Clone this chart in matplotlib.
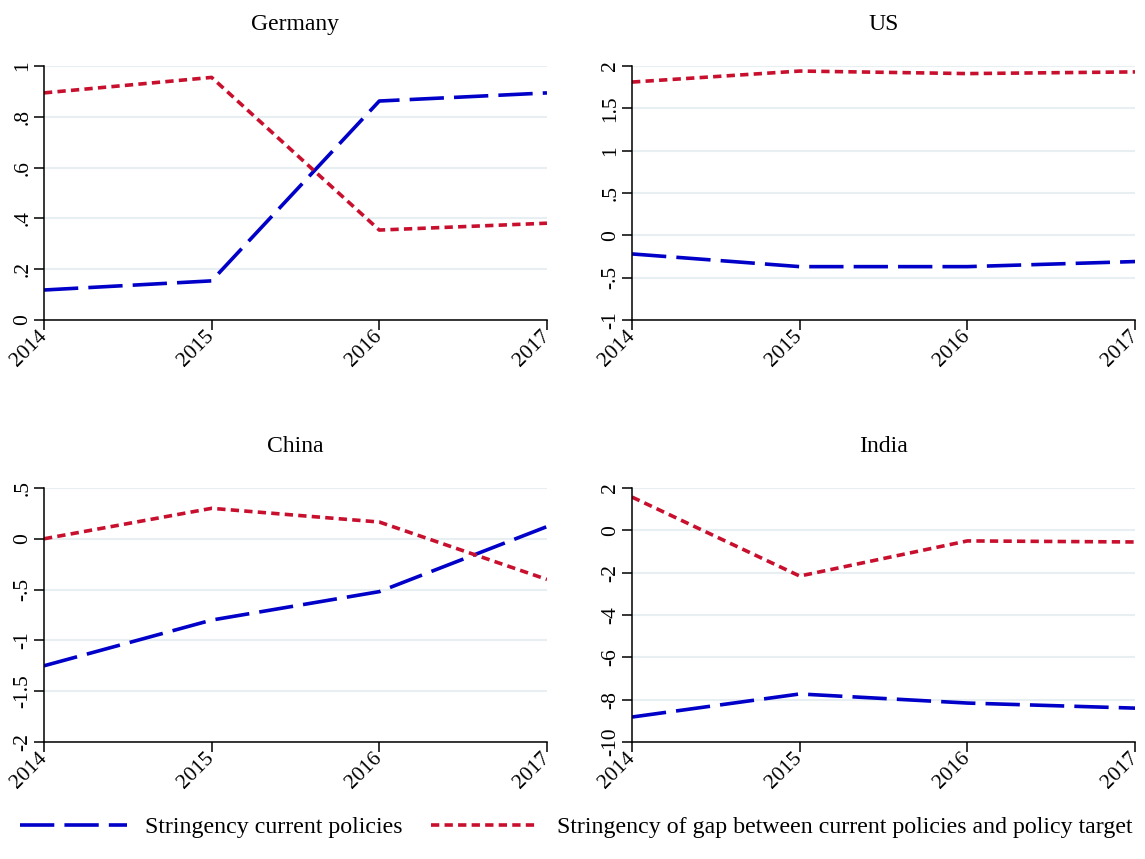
import matplotlib.pyplot as plt
from matplotlib.lines import Line2D

plt.rcParams['font.family'] = ['Liberation Serif', 'DejaVu Serif']

years = [2014, 2015, 2016, 2017]

germany_current = [0.118, 0.154, 0.862, 0.894]
germany_gap = [0.894, 0.955, 0.354, 0.381]
us_current = [-0.22, -0.37, -0.37, -0.31]
us_gap = [1.81, 1.94, 1.91, 1.93]
china_current = [-1.25, -0.80, -0.52, 0.12]
china_gap = [0.0, 0.30, 0.165, -0.40]
india_current = [-8.82, -7.73, -8.16, -8.40]
india_gap = [1.57, -2.16, -0.50, -0.55]

panels = [
    ("Germany", germany_current, germany_gap, [0, .2, .4, .6, .8, 1], ["0", ".2", ".4", ".6", ".8", "1"]),
    ("US", us_current, us_gap, [-1, -.5, 0, .5, 1, 1.5, 2], ["-1", "-.5", "0", ".5", "1", "1.5", "2"]),
    ("China", china_current, china_gap, [-2, -1.5, -1, -.5, 0, .5], ["-2", "-1.5", "-1", "-.5", "0", ".5"]),
    ("India", india_current, india_gap, [-10, -8, -6, -4, -2, 0, 2], ["-10", "-8", "-6", "-4", "-2", "0", "2"]),
]

blue = "#0000c8"
red = "#c8102e"
grid_col = "#e8eff3"
lw = 2.6
blue_dash = (9.5, 2.8)
red_dash = (2.3, 1.45)

fig = plt.figure(figsize=(11.45, 8.59), dpi=100)
positions = [
    [0.0384, 0.6275, 0.4393, 0.2957],
    [0.552, 0.6275, 0.4393, 0.2957],
    [0.0384, 0.1362, 0.4393, 0.2957],
    [0.552, 0.1362, 0.4393, 0.2957],
]

for pos, (name, cur, gap, yt, ytl) in zip(positions, panels):
    ax = fig.add_axes(pos)
    ax.plot(years, cur, color=blue, lw=lw, dashes=blue_dash)
    ax.plot(years, gap, color=red, lw=lw, dashes=red_dash)
    ax.set_xlim(2014, 2017)
    ax.set_ylim(yt[0], yt[-1])
    ax.set_yticks(yt)
    ax.set_yticklabels(ytl, rotation=90, va="center", fontsize=15.5)
    ax.set_xticks(years)
    ax.set_xticklabels([str(y) for y in years], rotation=45, ha="right",
                       va="center", rotation_mode="anchor", fontsize=15.5)
    ax.grid(axis="y", color=grid_col, lw=1.5)
    ax.set_axisbelow(True)
    for s in ["top", "right"]:
        ax.spines[s].set_visible(False)
    ax.spines["left"].set_linewidth(1.1)
    ax.spines["bottom"].set_linewidth(1.1)
    ax.tick_params(length=7, width=1.1)
    ax.tick_params(axis="y", pad=1.5)
    ax.tick_params(axis="x", pad=3)
    ax.set_title(name, fontsize=17, pad=26)

handles = [
    Line2D([], [], color=blue, lw=lw, dashes=blue_dash),
    Line2D([], [], color=red, lw=lw, dashes=red_dash),
]
fig.legend(handles, ["Stringency current policies",
                     "Stringency of gap between current policies and policy target"],
           loc="center", bbox_to_anchor=(0.503, 0.037), ncol=2, frameon=False,
           fontsize=17.2, handlelength=4.5, columnspacing=1.2, handletextpad=0.75,
           borderpad=0.2, borderaxespad=0)

fig.savefig("out.png", dpi=100, facecolor="white")
